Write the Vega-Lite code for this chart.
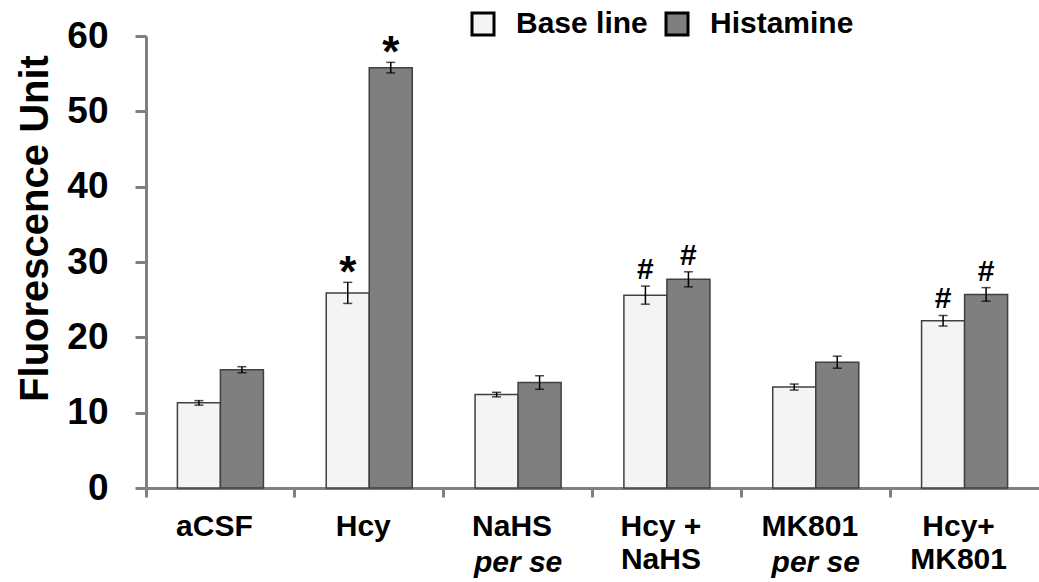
{
  "$schema": "https://vega.github.io/schema/vega-lite/v6.json",
  "width": 893,
  "height": 452,
  "autosize": {"type": "none"},
  "padding": {"left": 146, "top": 36, "right": 0, "bottom": 94},
  "background": "white",
  "config": {"view": {"stroke": null}, "font": "Liberation Sans"},
  "data": {"values": [
    {"group": "aCSF", "condition": "Base line", "mean": 11.3, "lo": 11.0, "hi": 11.6, "sig": ""},
    {"group": "aCSF", "condition": "Histamine", "mean": 15.7, "lo": 15.3, "hi": 16.1, "sig": ""},
    {"group": "Hcy", "condition": "Base line", "mean": 25.9, "lo": 24.5, "hi": 27.3, "sig": "*"},
    {"group": "Hcy", "condition": "Histamine", "mean": 55.8, "lo": 55.1, "hi": 56.5, "sig": "*"},
    {"group": "NaHS per se", "condition": "Base line", "mean": 12.4, "lo": 12.1, "hi": 12.7, "sig": ""},
    {"group": "NaHS per se", "condition": "Histamine", "mean": 14.0, "lo": 13.1, "hi": 14.9, "sig": ""},
    {"group": "Hcy + NaHS", "condition": "Base line", "mean": 25.6, "lo": 24.4, "hi": 26.8, "sig": "#"},
    {"group": "Hcy + NaHS", "condition": "Histamine", "mean": 27.7, "lo": 26.7, "hi": 28.7, "sig": "#"},
    {"group": "MK801 per se", "condition": "Base line", "mean": 13.4, "lo": 13.0, "hi": 13.8, "sig": ""},
    {"group": "MK801 per se", "condition": "Histamine", "mean": 16.7, "lo": 15.9, "hi": 17.5, "sig": ""},
    {"group": "Hcy+ MK801", "condition": "Base line", "mean": 22.2, "lo": 21.5, "hi": 22.9, "sig": "#"},
    {"group": "Hcy+ MK801", "condition": "Histamine", "mean": 25.7, "lo": 24.8, "hi": 26.6, "sig": "#"}
  ]},
  "encoding": {
    "x": {
      "field": "group",
      "type": "nominal",
      "sort": null,
      "scale": {"domain": ["aCSF", "Hcy", "NaHS per se", "Hcy + NaHS", "MK801 per se", "Hcy+ MK801"], "paddingInner": 0, "paddingOuter": 0},
      "axis": {
        "title": null,
        "labelAngle": 0,
        "bandPosition": 0,
        "labelOffset": -6,
        "domainColor": "#808080",
        "domainWidth": 3,
        "tickColor": "#808080",
        "tickWidth": 3,
        "tickSize": 9,
        "labelFont": "Liberation Sans",
        "labelFontSize": 30,
        "labelFontWeight": "bold",
        "labelColor": "black",
        "labelBaseline": "top",
        "labelPadding": 14,
        "labelLineHeight": 33,
        "labelOverlap": false,
        "labelBound": false,
        "labelExpr": "datum.label == 'Hcy + NaHS' ? ['Hcy +', 'NaHS'] : datum.label == 'Hcy+ MK801' ? ['Hcy+', 'MK801'] : replace(datum.label, ' per se', '')"
      }
    }
  },
  "layer": [
    {
      "mark": {"type": "bar", "stroke": "#404040", "strokeWidth": 1.5},
      "encoding": {
        "xOffset": {"field": "condition", "type": "nominal", "scale": {"paddingInner": 0, "paddingOuter": 0.73}},
        "y": {
          "field": "mean",
          "type": "quantitative",
          "title": "Fluorescence Unit",
          "scale": {"domain": [0, 60], "nice": false},
          "axis": {
            "values": [0, 10, 20, 30, 40, 50, 60],
            "grid": false,
            "domainColor": "#808080",
            "domainWidth": 3,
            "tickColor": "#808080",
            "tickWidth": 3,
            "tickSize": 11,
            "labelFont": "Liberation Sans",
            "labelFontSize": 37,
            "labelFontWeight": "bold",
            "labelColor": "black",
            "labelPadding": 27,
            "titleFont": "Liberation Sans",
            "titleFontSize": 40,
            "titleFontWeight": "bold",
            "titleColor": "black",
            "titleAngle": 270,
            "titleAlign": "center",
            "titleBaseline": "alphabetic",
            "titleX": -99,
            "titleY": 192
          }
        },
        "fill": {
          "field": "condition",
          "type": "nominal",
          "scale": {"domain": ["Base line", "Histamine"], "range": ["#f4f4f4", "#7f7f7f"]},
          "legend": {
            "title": null,
            "orient": "none",
            "legendX": 322,
            "legendY": -27,
            "direction": "horizontal",
            "symbolType": "square",
            "symbolSize": 484,
            "symbolStrokeColor": "black",
            "symbolStrokeWidth": 3,
            "labelFont": "Liberation Sans",
            "labelFontSize": 30,
            "labelFontWeight": "bold",
            "labelColor": "black",
            "labelOffset": 18,
            "columnPadding": 12,
            "padding": 0
          }
        }
      }
    },
    {
      "mark": {"type": "rule", "color": "black", "strokeWidth": 1.5},
      "encoding": {
        "xOffset": {"field": "condition", "type": "nominal"},
        "y": {"field": "lo", "type": "quantitative", "title": "Fluorescence Unit"},
        "y2": {"field": "hi"}
      }
    },
    {
      "mark": {"type": "tick", "color": "black", "size": 9, "thickness": 1.5},
      "encoding": {
        "xOffset": {"field": "condition", "type": "nominal"},
        "y": {"field": "lo", "type": "quantitative", "title": "Fluorescence Unit"}
      }
    },
    {
      "mark": {"type": "tick", "color": "black", "size": 9, "thickness": 1.5},
      "encoding": {
        "xOffset": {"field": "condition", "type": "nominal"},
        "y": {"field": "hi", "type": "quantitative", "title": "Fluorescence Unit"}
      }
    },
    {
      "transform": [{"filter": "datum.sig == '*'"}],
      "mark": {"type": "text", "font": "Liberation Sans", "fontSize": 44, "fontWeight": "bold", "baseline": "alphabetic", "dy": 5, "color": "black"},
      "encoding": {
        "xOffset": {"field": "condition", "type": "nominal"},
        "y": {"field": "hi", "type": "quantitative", "title": "Fluorescence Unit"},
        "text": {"field": "sig"}
      }
    },
    {
      "transform": [{"filter": "datum.sig == '#'"}],
      "mark": {"type": "text", "font": "Liberation Sans", "fontSize": 30, "fontWeight": "bold", "baseline": "alphabetic", "dy": -7, "color": "black"},
      "encoding": {
        "xOffset": {"field": "condition", "type": "nominal"},
        "y": {"field": "hi", "type": "quantitative", "title": "Fluorescence Unit"},
        "text": {"field": "sig"}
      }
    },
    {
      "data": {"values": [
        {"group": "NaHS per se", "note": "per se"},
        {"group": "MK801 per se", "note": "per se"}
      ]},
      "mark": {"type": "text", "font": "Liberation Sans", "fontSize": 30, "fontWeight": "bold", "fontStyle": "italic", "baseline": "alphabetic", "dy": 84, "color": "black"},
      "encoding": {
        "y": {"datum": 0, "type": "quantitative", "title": "Fluorescence Unit"},
        "text": {"field": "note"}
      }
    }
  ]
}
